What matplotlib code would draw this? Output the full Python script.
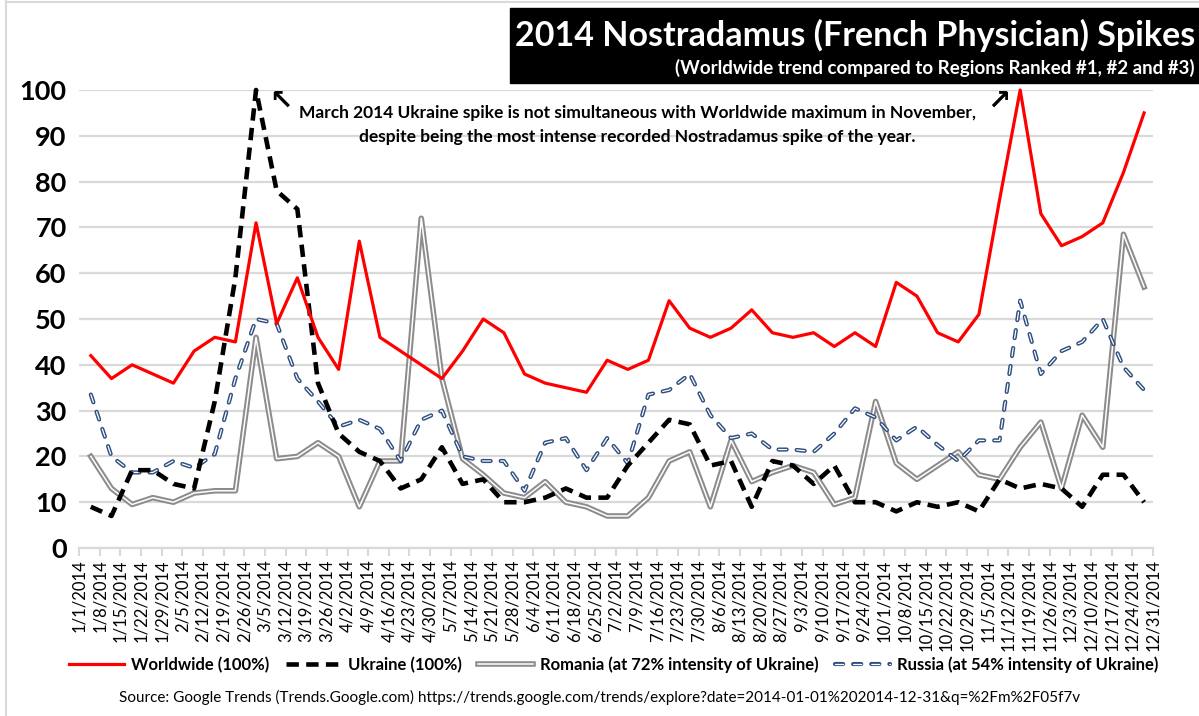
import matplotlib
matplotlib.use('Agg')
import matplotlib.pyplot as plt
import matplotlib.patheffects as pe
from matplotlib.patches import Rectangle
from matplotlib.lines import Line2D
import pandas as pd

plt.rcParams['font.family'] = ['Lato', 'DejaVu Sans']

# axis ticks: every 7 days through 2014, data: google trends weeks (sunday)
tick_dates = pd.date_range('2014-01-01', '2014-12-31', freq='7D')
week_dates = pd.date_range('2014-01-05', periods=52, freq='7D')
tick_labels = [f'{d.month}/{d.day}/{d.year}' for d in tick_dates]

worldwide = [42, 37, 40, 38, 36, 43, 46, 45, 71, 49, 59, 46, 39, 67, 46, 43, 40, 37, 43, 50,
             47, 38, 36, 35, 34, 41, 39, 41, 54, 48, 46, 48, 52, 47, 46, 47, 44, 47, 44, 58,
             55, 47, 45, 51, 76, 100, 73, 66, 68, 71, 82, 95]
ukraine = [9, 7, 17, 17, 14, 13, 32, 59, 100, 78, 74, 36, 25, 21, 19, 13, 15, 22, 14, 15,
           10, 10, 11, 13, 11, 11, 18, 23, 28, 27, 18, 19, 9, 19, 18, 14, 18, 10, 10, 8,
           10, 9, 10, 8, 15, 13, 14, 13, 9, 16, 16, 10]
romania = [20, 13, 9.5, 11, 10, 12, 12.5, 12.5, 46, 19.5, 20, 23, 20, 9, 19, 19, 72, 37, 19.5, 16,
           12, 11, 14.5, 10, 9, 7, 7, 11, 19, 21, 9, 23.5, 14.5, 16.5, 18, 16.5, 9.5, 11, 32, 18.5,
           15, 18, 21, 16, 15, 22, 27.5, 13, 29, 22, 68.5, 57]
russia = [33.5, 20, 16.5, 16.5, 19, 17.5, 20.5, 37, 50, 49, 37, 32, 26.5, 28, 26, 19, 28, 30, 20, 19,
          19, 12.5, 23, 24, 17, 24, 18.5, 33.5, 34.5, 38, 29, 24, 25, 21.5, 21.5, 21, 25, 30.5, 28.5, 23.5,
          26.5, 22.5, 19, 23.5, 23.5, 54, 38, 43, 45, 50, 39.5, 34.5]

grid_col = '#d9d9d9'

fig = plt.figure(figsize=(11.99, 7.16), dpi=100)
ax = fig.add_axes([0.0659, 0.2346, 0.8957, 0.6397])

ax.plot(week_dates, worldwide, color='#ff0000', lw=2.3, zorder=6, clip_on=False,
        label='Worldwide (100%)')
ax.plot(week_dates, ukraine, color='black', lw=3.3, dashes=(2.7, 1.6), zorder=5, clip_on=False,
        label='Ukraine (100%)')
ax.plot(week_dates, romania, color='white', lw=1.1, zorder=3, clip_on=False,
        path_effects=[pe.Stroke(linewidth=4.0, foreground='#8c8c8c'), pe.Normal()],
        label='Romania (at 72% intensity of Ukraine)')
ax.plot(week_dates, russia, color='white', lw=0.9, dashes=(6.5, 8), dash_capstyle='round',
        zorder=4, clip_on=False,
        path_effects=[pe.Stroke(linewidth=3.0, foreground='#2f4f80'), pe.Normal()],
        label='Russia (at 54% intensity of Ukraine)')

ax.set_xlim(tick_dates[0], tick_dates[-1])
ax.set_ylim(0, 100)
ax.set_yticks(range(0, 101, 10))
ax.set_xticks(tick_dates)
ax.set_xticklabels(tick_labels, rotation=90, fontsize=12)
ax.tick_params(axis='x', length=6, width=1.5, color=grid_col, pad=2)
ax.tick_params(axis='y', length=0, pad=9, labelsize=19.5)
for lbl in ax.get_yticklabels():
    lbl.set_fontweight('bold')
ax.grid(axis='y', color=grid_col, lw=1.6)
ax.set_axisbelow(True)
for s in ['top', 'right', 'left']:
    ax.spines[s].set_visible(False)
ax.spines['bottom'].set_color(grid_col)
ax.spines['bottom'].set_linewidth(1.6)

# chart border
fig.add_artist(Line2D([6 / 1199, 6 / 1199], [0, 1], color=grid_col, lw=1.5))
fig.add_artist(Line2D([6 / 1199, 1], [1 - 2 / 716, 1 - 2 / 716], color=grid_col, lw=1.5))

# title box
fig.add_artist(Rectangle((510 / 1199, 1 - 83 / 716), 1 - 510 / 1199, 75 / 716,
                         transform=fig.transFigure, color='black', zorder=10))
fig.text(0.9967, 1 - 35 / 716, '2014 Nostradamus (French Physician) Spikes', color='white',
         fontsize=24.5, fontweight='bold', ha='right', va='center', zorder=11)
fig.text(0.9967, 1 - 68 / 716, '(Worldwide trend compared to Regions Ranked #1, #2 and #3)',
         color='white', fontsize=13.5, fontweight='bold', ha='right', va='center', zorder=11)

# annotation
fig.text(637 / 1199, 1 - 113 / 716,
         'March 2014 Ukraine spike is not simultaneous with Worldwide maximum in November,',
         fontsize=12.5, fontweight='bold', ha='center', va='center')
fig.text(637 / 1199, 1 - 137 / 716,
         'despite being the most intense recorded Nostradamus spike of the year.',
         fontsize=12.5, fontweight='bold', ha='center', va='center')
fig.text(281 / 1199, 1 - 101 / 716, '\u2196', family='DejaVu Sans', fontsize=20,
         fontweight='bold', ha='center', va='center')
fig.text(999 / 1199, 1 - 101 / 716, '\u2197', family='DejaVu Sans', fontsize=20,
         fontweight='bold', ha='center', va='center')

fig.legend(loc='center', bbox_to_anchor=(0.512, 1 - 665 / 716), ncol=4, frameon=False,
           prop=dict(weight='bold', size=12), handlelength=3.3, handletextpad=0.4,
           columnspacing=1.0)

fig.text(0.5, 1 - 697 / 716,
         'Source: Google Trends (Trends.Google.com) '
         'https://trends.google.com/trends/explore?date=2014-01-01%202014-12-31&q=%2Fm%2F05f7v',
         fontsize=11, ha='center', va='center')

fig.savefig('out.png', dpi=100)
